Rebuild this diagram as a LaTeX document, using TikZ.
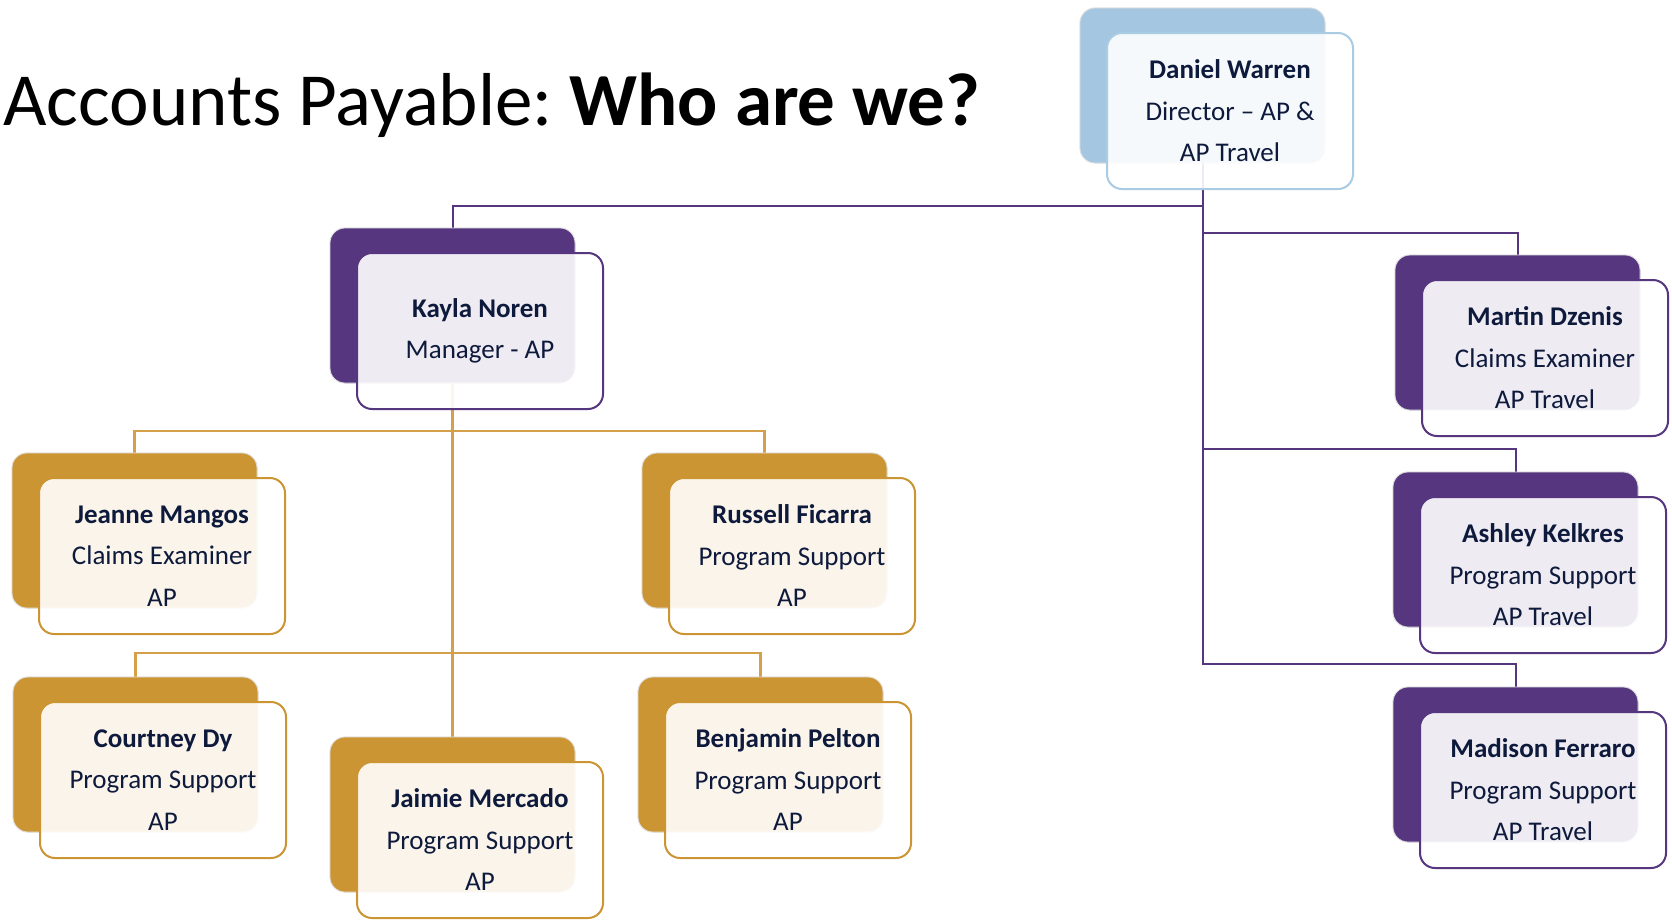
\documentclass[tikz,border=0pt]{standalone}
\usepackage{fontspec}
\setmainfont{Carlito}
\definecolor{apPurple}{HTML}{56377F}
\definecolor{apGold}{HTML}{CC9533}
\definecolor{apGoldLine}{HTML}{D4A04A}
\definecolor{apBlue}{HTML}{A4C6E0}
\definecolor{apBlueLine}{HTML}{A9CCE4}
\definecolor{apText}{HTML}{0E1A3C}
\tikzset{
  backbox/.style={rectangle, rounded corners=15pt, fill=#1, draw=black!12, line width=0.8pt,
    minimum width=245pt, minimum height=155pt, inner sep=0pt, outer sep=0pt},
  frontbox/.style={rectangle, rounded corners=15pt, fill=white, fill opacity=0.9, text opacity=1,
    draw=#1, draw opacity=1, line width=2pt, minimum width=246pt, minimum height=156pt,
    inner sep=0pt, outer sep=0pt, align=center, text=apText,
    font=\fontsize{27}{41.5}\selectfont},
  pline/.style={draw=apPurple, line width=2pt},
  gline/.style={draw=apGoldLine, line width=2.5pt},
}
\begin{document}
\begin{tikzpicture}[x=1pt, y=-1pt]
\useasboundingbox (0,0) rectangle (1672,919);
\fill[white] (0,0) rectangle (1672,919);
% title
\node[anchor=base west, inner sep=0pt, font=\fontsize{75}{90}\selectfont] (title) at (3,125)
  {Accounts Payable:\kern-6pt{} \textbf{Who are we?}};
% back boxes
\path
  node[backbox=apBlue] (danielB) at (1080+122.5, 8+77.5) {}
  node[backbox=apPurple] (kaylaB) at (330+122.5, 228+77.5) {}
  node[backbox=apGold] (jeanneB) at (12+122.5, 453+77.5) {}
  node[backbox=apGold] (russellB) at (642+122.5, 453+77.5) {}
  node[backbox=apGold] (courtneyB) at (13+122.5, 677+77.5) {}
  node[backbox=apGold] (benjaminB) at (638+122.5, 677+77.5) {}
  node[backbox=apGold] (jaimieB) at (330+122.5, 737+77.5) {}
  node[backbox=apPurple] (martinB) at (1395+122.5, 255+77.5) {}
  node[backbox=apPurple] (ashleyB) at (1393+122.5, 472+77.5) {}
  node[backbox=apPurple] (madisonB) at (1393+122.5, 687+77.5) {};
% connectors
\draw[pline] (danielB.south) -- ++(0,43) -| (kaylaB.north);
\draw[pline] (danielB.south) -- ++(0,501) -| (madisonB.north);
\draw[pline] (danielB.south) ++(0,70) -| (martinB.north);
\draw[pline] (danielB.south) ++(0,286) -| (ashleyB.north);
\draw[gline] (kaylaB.south) ++(0,48) -| (jeanneB.north);
\draw[gline] (kaylaB.south) ++(0,48) -| (russellB.north);
\draw[gline] (kaylaB.south) ++(0,270) -| (courtneyB.north);
\draw[gline] (kaylaB.south) ++(0,270) -| (benjaminB.north);
\draw[gline] (kaylaB.south) -- (jaimieB.north);
% redraw back boxes over connectors
\path
  node[backbox=apBlue] at (danielB) {}
  node[backbox=apPurple] at (kaylaB) {}
  node[backbox=apGold] at (jeanneB) {}
  node[backbox=apGold] at (russellB) {}
  node[backbox=apGold] at (courtneyB) {}
  node[backbox=apGold] at (benjaminB) {}
  node[backbox=apGold] at (jaimieB) {}
  node[backbox=apPurple] at (martinB) {}
  node[backbox=apPurple] at (ashleyB) {}
  node[backbox=apPurple] at (madisonB) {};
% front boxes
\node[frontbox=apBlueLine] (daniel) at (1080+150, 8+103) {\textbf{Daniel Warren}\\Director – AP \&\\AP Travel};
\node[frontbox=apPurple] (kayla) at (330+150, 228+103) {\textbf{Kayla Noren}\\Manager - AP};
\node[frontbox=apGold] (jeanne) at (12+150, 453+103) {\textbf{Jeanne Mangos}\\Claims Examiner\\AP};
\node[frontbox=apGold] (russell) at (642+150, 453+103) {\textbf{Russell Ficarra}\\Program Support\\AP};
\node[frontbox=apGold] (courtney) at (13+150, 677+103) {\textbf{Courtney Dy}\\Program Support\\AP};
\node[frontbox=apGold] (benjamin) at (638+150, 677+103) {\textbf{Benjamin Pelton}\\Program Support\\AP};
\node[frontbox=apGold] (jaimie) at (330+150, 737+103) {\textbf{Jaimie Mercado}\\Program Support\\AP};
\node[frontbox=apPurple] (martin) at (1395+150, 255+103) {\textbf{Martin Dzenis}\\Claims Examiner\\AP Travel};
\node[frontbox=apPurple] (ashley) at (1393+150, 472+103) {\textbf{Ashley Kelkres}\\Program Support\\AP Travel};
\node[frontbox=apPurple] (madison) at (1393+150, 687+103) {\textbf{Madison Ferraro}\\Program Support\\AP Travel};
\end{tikzpicture}
\end{document}
